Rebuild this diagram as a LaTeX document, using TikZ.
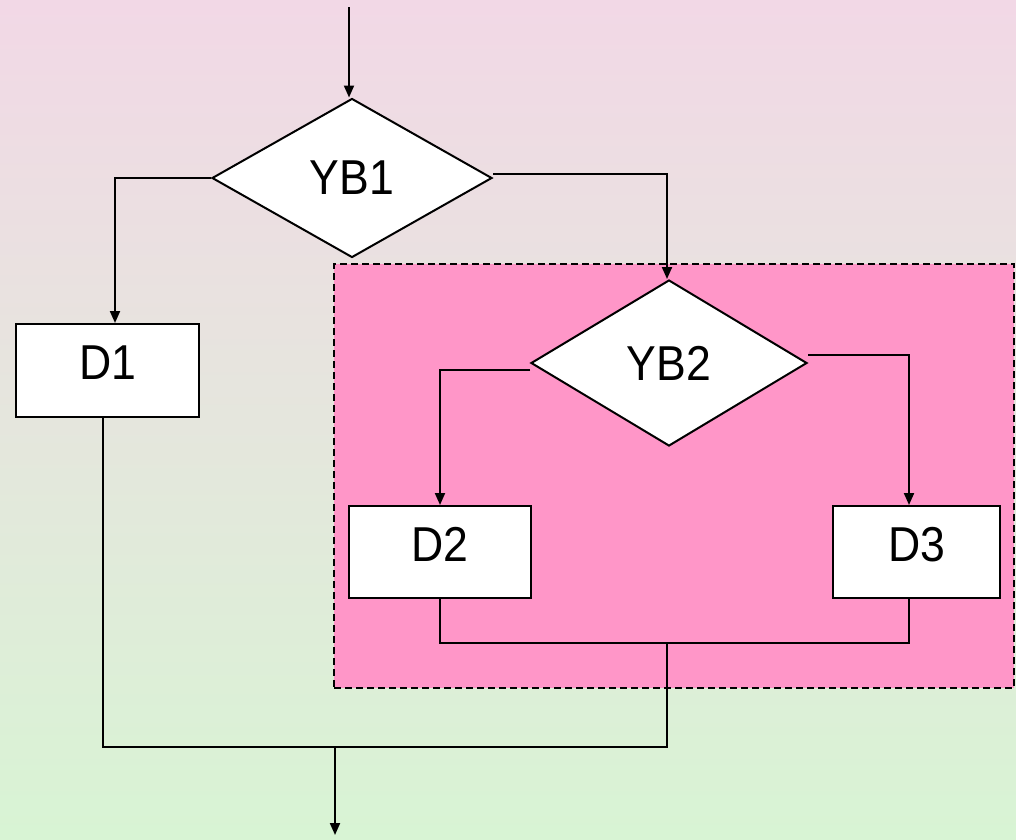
\documentclass[tikz,border=0pt]{standalone}
\usepackage{fontspec}
\setmainfont{Liberation Sans}[FakeStretch=0.91]
\usetikzlibrary{shapes.geometric,arrows.meta,positioning}
\definecolor{fondhaut}{HTML}{F2D8E6}
\definecolor{fondbas}{HTML}{D8F4D4}
\definecolor{rose}{HTML}{FF96C8}

\begin{document}
\begin{tikzpicture}[x=1pt,y=-1pt,
		every node/.style={font=\fontsize{49}{59}\selectfont},
		boite/.style={rectangle,draw,fill=white,line width=2pt,inner sep=0pt,text depth=16pt},
		losange/.style={diamond,draw,fill=white,line width=2pt,inner sep=0pt},
		trait/.style={line width=2pt},
		fleche/.style={trait,-{Triangle[length=12pt,width=10pt]}}]
	% fond degrade
	\useasboundingbox (0,0) rectangle (1016,839);
	\path[top color=fondhaut,bottom color=fondbas] (0,0) rectangle (1016,839);
	% cadre du second test
	\node (CADRE) at (674,476) [rectangle,draw,fill=rose,line width=1.8pt,dash pattern=on 7pt off 4pt,minimum width=680pt,minimum height=424pt] {};
	% description et nommage des noeuds
	\node (YB1) at (352,178) [losange,minimum width=280pt,minimum height=159pt] {YB1};
	\node (YB2) at (669,363) [losange,minimum width=276pt,minimum height=166pt] {YB2};
	\node (D1) at (107.5,370.5) [boite,minimum width=183pt,minimum height=93pt] {D1};
	\node (D2) at (440,552) [boite,minimum width=182pt,minimum height=92pt] {D2};
	\node (D3) at (916.5,552) [boite,minimum width=167pt,minimum height=92pt] {D3};
	\coordinate (ENTREE) at (349,7);
	\coordinate (J2) at (667,643);
	\coordinate (J1) at (667,747);
	\coordinate (SORTIE) at (335,835);
	% aretes
	\draw[fleche] (ENTREE) -- (ENTREE |- YB1.north);
	\draw[fleche] (YB1.west) -| ([xshift=7.5pt]D1.north);
	\draw[fleche] ([yshift=4pt]YB1.east) -| ([xshift=-2pt]YB2.north);
	\draw[fleche] ([yshift=-7pt]YB2.west) -| (D2.north);
	\draw[fleche] ([yshift=8pt]YB2.east) -| ([xshift=-7.5pt]D3.north);
	\draw[trait] (D2.south) |- (J2) -| ([xshift=-7.5pt]D3.south);
	\draw[trait] (J2) -- (J1) -| ([xshift=-4.5pt]D1.south);
	\draw[fleche] (SORTIE |- J1) -- (SORTIE);
\end{tikzpicture}
\end{document}
